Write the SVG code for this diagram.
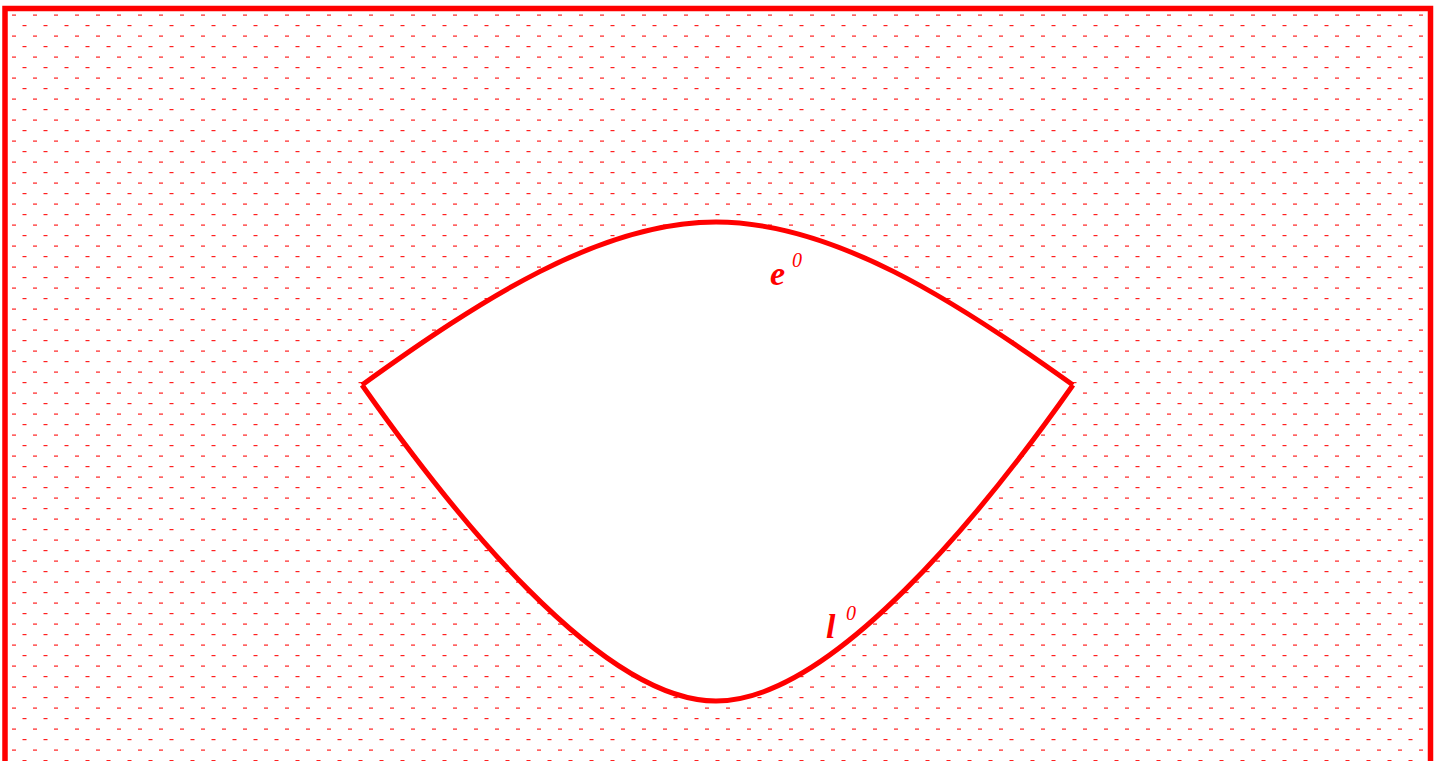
<svg xmlns="http://www.w3.org/2000/svg" width="1444" height="761" viewBox="0 0 1444 761">
<defs>
<pattern id="dots" x="0" y="0" width="21" height="21" patternUnits="userSpaceOnUse">
<rect x="12" y="14.5" width="4" height="1.2" fill="#ff2020"/>
<rect x="1.5" y="4" width="4" height="1.2" fill="#ff2020"/>
</pattern>
</defs>
<style>
.edge{fill:none;stroke:#ff0000;stroke-width:5;stroke-linejoin:miter}
.lbl{fill:#ff0000;font-family:"Liberation Serif",serif;font-style:italic}
</style>
<rect id="background" x="0" y="0" width="1444" height="761" fill="#ffffff"/>
<g id="region">
<rect x="5" y="8.5" width="1425.5" height="770" fill="url(#dots)" stroke="#ff0000" stroke-width="5.5"/>
</g>
<g id="face">
<path d="M362,385 C480,300 600,222 716,222 C832,222 955,300 1073,385 C985,510 832,701 716,701 C600,701 450,510 362,385 Z" fill="#ffffff" stroke="none"/>
</g>
<g id="connectors">
<path id="e0" class="edge" d="M362,385 C480,300 600,222 716,222 C832,222 955,300 1073,385"/>
<path id="l0" class="edge" d="M362,385 C450,510 600,701 716,701 C832,701 985,510 1073,385"/>
</g>
<g id="label-e0">
<text class="lbl" x="770" y="285" font-size="34" font-weight="bold">e</text>
<text class="lbl" x="792" y="267" font-size="20">0</text>
</g>
<g id="label-l0">
<text class="lbl" x="826" y="638" font-size="34" font-weight="bold">l</text>
<text class="lbl" x="846" y="620" font-size="20">0</text>
</g>
</svg>
